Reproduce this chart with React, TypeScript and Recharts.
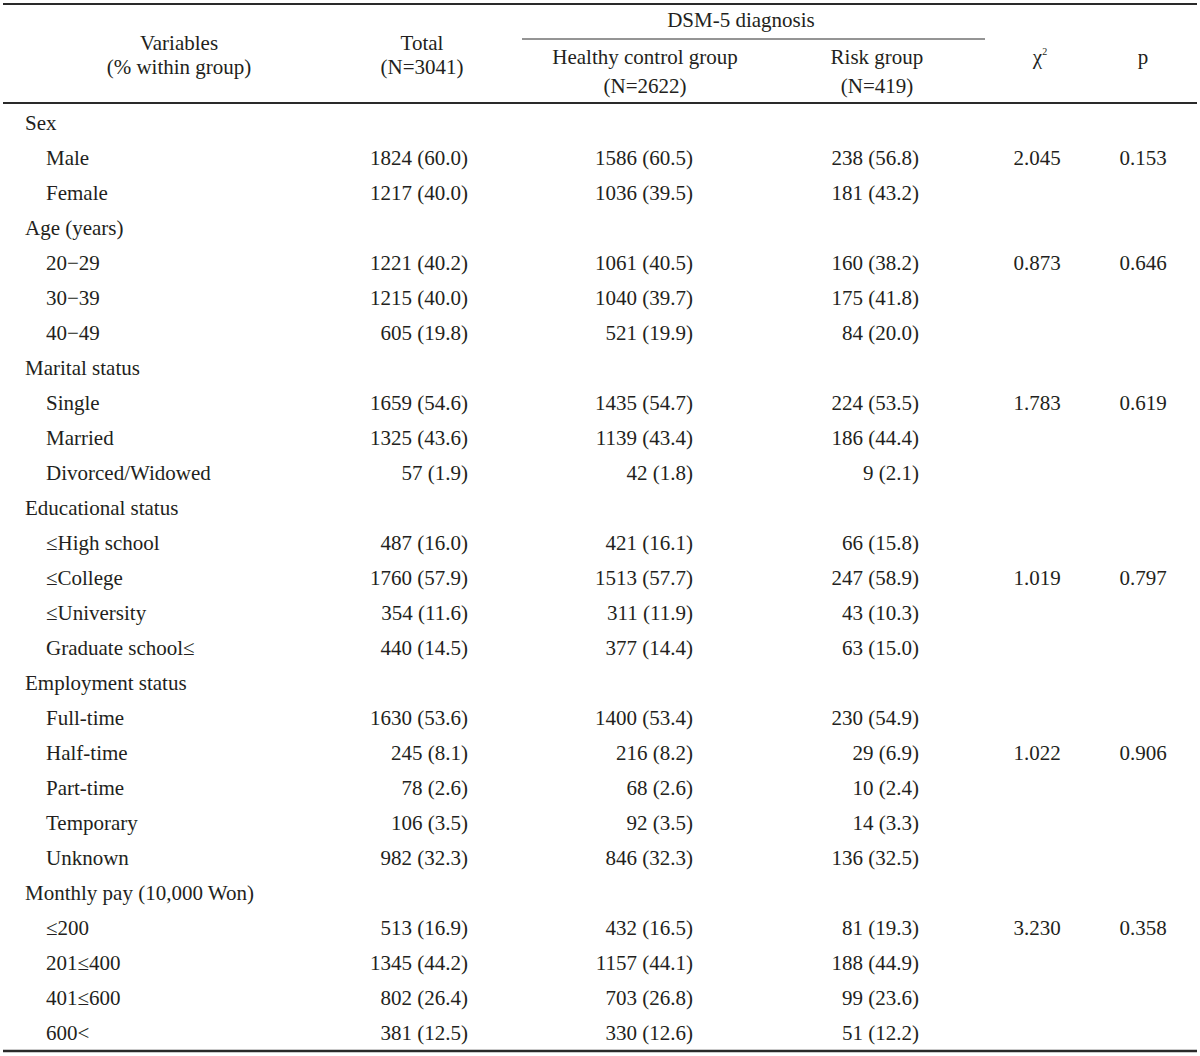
import React from 'react';
import { ScatterChart, Scatter, XAxis, YAxis, ReferenceLine } from 'recharts';

// table content
const labels = [
  'Sex', 'Male', 'Female',
  'Age (years)', '20\u221229', '30\u221239', '40\u221249',
  'Marital status', 'Single', 'Married', 'Divorced/Widowed',
  'Educational status', '\u2264High school', '\u2264College', '\u2264University', 'Graduate school\u2264',
  'Employment status', 'Full-time', 'Half-time', 'Part-time', 'Temporary', 'Unknown',
  'Monthly pay (10,000 Won)', '\u2264200', '201\u2264400', '401\u2264600', '600<',
];
const groupRows = [0, 3, 7, 11, 16, 22];

const totalCount = [null, 1824, 1217, null, 1221, 1215, 605, null, 1659, 1325, 57, null, 487, 1760, 354, 440, null, 1630, 245, 78, 106, 982, null, 513, 1345, 802, 381];
const totalPct = [null, 60.0, 40.0, null, 40.2, 40.0, 19.8, null, 54.6, 43.6, 1.9, null, 16.0, 57.9, 11.6, 14.5, null, 53.6, 8.1, 2.6, 3.5, 32.3, null, 16.9, 44.2, 26.4, 12.5];
const healthyCount = [null, 1586, 1036, null, 1061, 1040, 521, null, 1435, 1139, 42, null, 421, 1513, 311, 377, null, 1400, 216, 68, 92, 846, null, 432, 1157, 703, 330];
const healthyPct = [null, 60.5, 39.5, null, 40.5, 39.7, 19.9, null, 54.7, 43.4, 1.8, null, 16.1, 57.7, 11.9, 14.4, null, 53.4, 8.2, 2.6, 3.5, 32.3, null, 16.5, 44.1, 26.8, 12.6];
const riskCount = [null, 238, 181, null, 160, 175, 84, null, 224, 186, 9, null, 66, 247, 43, 63, null, 230, 29, 10, 14, 136, null, 81, 188, 99, 51];
const riskPct = [null, 56.8, 43.2, null, 38.2, 41.8, 20.0, null, 53.5, 44.4, 2.1, null, 15.8, 58.9, 10.3, 15.0, null, 54.9, 6.9, 2.4, 3.3, 32.5, null, 19.3, 44.9, 23.6, 12.2];

// chi-square and p, listed by the row where they are printed
const statRows = [1, 4, 8, 13, 18, 23];
const chiSquare = [2.045, 0.873, 1.783, 1.019, 1.022, 3.230];
const pValues = [0.153, 0.646, 0.619, 0.797, 0.906, 0.358];

const headerTotal = ['Total', '(N=3041)'];
const headerVariables = ['Variables', '(% within group)'];
const headerGroup = 'DSM-5 diagnosis';
const headerHealthy = ['Healthy control group', '(N=2622)'];
const headerRisk = ['Risk group', '(N=419)'];

// layout
const W = 1200;
const H = 1056;
const ROW0 = 123;
const ROW_H = 35;
const py = (px: number) => (px - ROW0) / ROW_H;

const FONT = "'Liberation Serif', 'Times New Roman', serif";
const FONT_SIZE = 21;
const INK = '#231f20';
const RULE = '#2a2a2a';

const COL = {
  group: 25,
  item: 46,
  total: 468,
  healthy: 693,
  risk: 919,
  chi: 1037,
  p: 1143,
};

type Cell = { x: number; y: number; text: string; anchor: 'start' | 'middle' | 'end'; sup?: string };

const fmtCell = (c: number | null, p: number | null) => (c == null || p == null ? null : `${c} (${p.toFixed(1)})`);

const labelCells: Cell[] = labels.map((t, i) => ({
  x: groupRows.includes(i) ? COL.group : COL.item,
  y: i,
  text: t,
  anchor: 'start',
}));

const columnCells = (counts: (number | null)[], pcts: (number | null)[], x: number): Cell[] =>
  counts
    .map((c, i) => ({ x, y: i, text: fmtCell(c, pcts[i]), anchor: 'end' as const }))
    .filter((c) => c.text != null) as Cell[];

const totalCells = columnCells(totalCount, totalPct, COL.total);
const healthyCells = columnCells(healthyCount, healthyPct, COL.healthy);
const riskCells = columnCells(riskCount, riskPct, COL.risk);
const chiCells: Cell[] = chiSquare.map((v, i) => ({ x: COL.chi, y: statRows[i], text: v.toFixed(3), anchor: 'middle' }));
const pCells: Cell[] = pValues.map((v, i) => ({ x: COL.p, y: statRows[i], text: v.toFixed(3), anchor: 'middle' }));

const headerCells: Cell[] = [
  { x: 179, y: py(43), text: headerVariables[0], anchor: 'middle' },
  { x: 179, y: py(67), text: headerVariables[1], anchor: 'middle' },
  { x: 422, y: py(43), text: headerTotal[0], anchor: 'middle' },
  { x: 422, y: py(67), text: headerTotal[1], anchor: 'middle' },
  { x: 741, y: py(20), text: headerGroup, anchor: 'middle' },
  { x: 645, y: py(57), text: headerHealthy[0], anchor: 'middle' },
  { x: 645, y: py(86), text: headerHealthy[1], anchor: 'middle' },
  { x: 877, y: py(57), text: headerRisk[0], anchor: 'middle' },
  { x: 877, y: py(86), text: headerRisk[1], anchor: 'middle' },
  { x: 1040, y: py(57), text: '\u03c7', anchor: 'middle', sup: '2' },
  { x: 1143, y: py(57), text: 'p', anchor: 'middle' },
];

const TextShape = (props: any) => {
  const { cx, cy, payload } = props;
  if (cx == null || cy == null) return null;
  return (
    <text x={cx} y={cy} dy="0.35em" textAnchor={payload.anchor} fontFamily={FONT} fontSize={FONT_SIZE} fill={INK}>
      {payload.text}
      {payload.sup ? (
        <tspan dy={-9} fontSize={10}>
          {payload.sup}
        </tspan>
      ) : null}
    </text>
  );
};

const series = [labelCells, totalCells, healthyCells, riskCells, chiCells, pCells, headerCells];

const App: React.FC = () => {
  return (
    <div style={{ position: 'absolute', left: 0, top: 0, width: W, height: H, background: '#fff' }}>
      <ScatterChart width={W} height={H} margin={{ top: 0, right: 0, bottom: 0, left: 0 }}>
        <XAxis type="number" dataKey="x" domain={[0, W]} hide />
        <YAxis type="number" dataKey="y" domain={[py(0), py(H)]} reversed hide />
        <ReferenceLine segment={[{ x: 3, y: py(4) }, { x: 1197, y: py(4) }]} stroke={RULE} strokeWidth={2} />
        <ReferenceLine segment={[{ x: 522, y: py(39) }, { x: 985, y: py(39) }]} stroke={RULE} strokeWidth={1} />
        <ReferenceLine segment={[{ x: 3, y: py(103) }, { x: 1197, y: py(103) }]} stroke={RULE} strokeWidth={2} />
        <ReferenceLine segment={[{ x: 3, y: py(1051) }, { x: 1197, y: py(1051) }]} stroke={RULE} strokeWidth={2.5} />
        {series.map((d, i) => (
          <Scatter key={i} data={d} shape={TextShape} isAnimationActive={false} />
        ))}
      </ScatterChart>
    </div>
  );
};

export default App;
